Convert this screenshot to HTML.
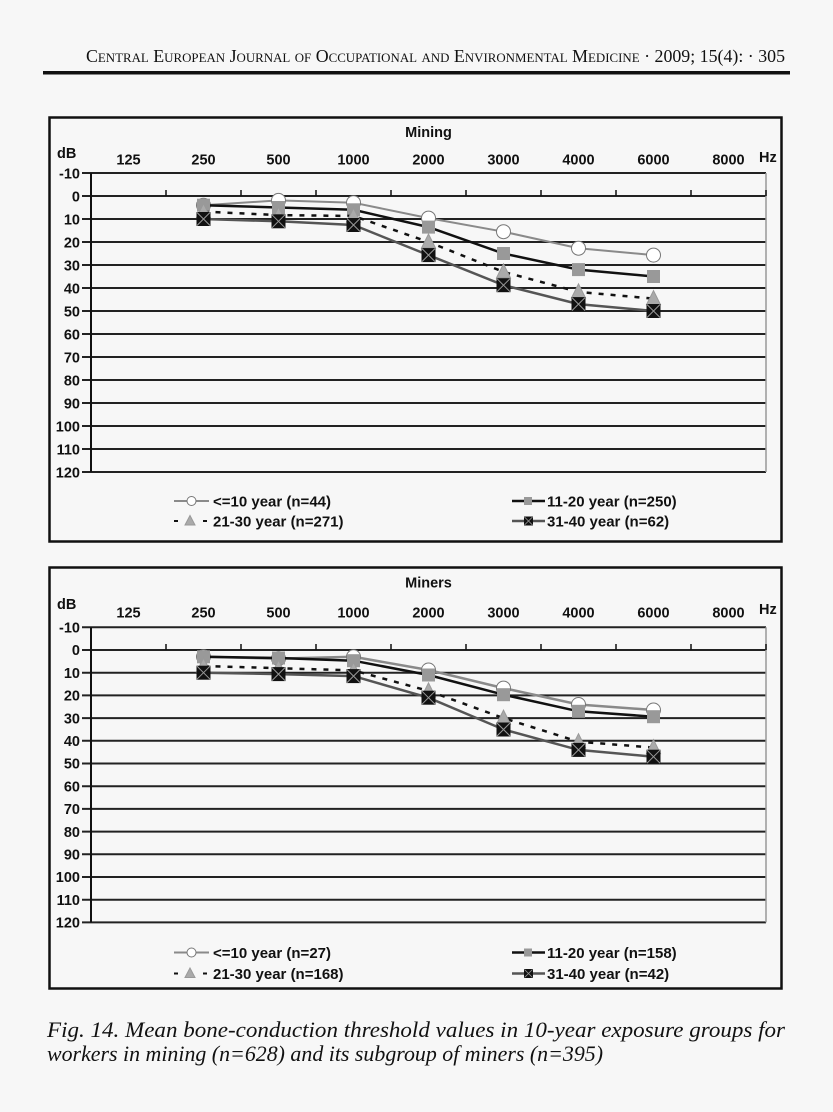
<!DOCTYPE html>
<html><head><meta charset="utf-8"><style>
html,body{margin:0;padding:0;background:#f7f7f7;}
svg{display:block;}
.t{font-family:"Liberation Sans",Arial,sans-serif;font-weight:bold;font-size:14.5px;fill:#111;}
.l{font-family:"Liberation Sans",Arial,sans-serif;font-weight:bold;font-size:15px;fill:#111;}
</style></head><body>
<svg width="833" height="1112" viewBox="0 0 833 1112" xmlns="http://www.w3.org/2000/svg">
<defs>
<marker id="mc" markerUnits="userSpaceOnUse" markerWidth="20" markerHeight="20" refX="10" refY="10" overflow="visible"><circle cx="10" cy="10" r="7" fill="#fff" stroke="#777" stroke-width="1"/></marker>
<marker id="ms" markerUnits="userSpaceOnUse" markerWidth="20" markerHeight="20" refX="10" refY="10" overflow="visible"><rect x="3.5" y="3.5" width="13" height="13" fill="#999"/></marker>
<marker id="mt" markerUnits="userSpaceOnUse" markerWidth="20" markerHeight="20" refX="10" refY="10" overflow="visible"><polygon points="10,2 17,16 3,16" fill="#aaa" stroke="#999" stroke-width="1"/></marker>
<marker id="mx" markerUnits="userSpaceOnUse" markerWidth="20" markerHeight="20" refX="10" refY="10" overflow="visible"><rect x="3" y="3" width="14" height="14" fill="#111"/><path d="M3.5 3.5L16.5 16.5M16.5 3.5L3.5 16.5" stroke="#999" stroke-width="1"/></marker>
</defs>
<rect width="833" height="1112" fill="#f7f7f7"/>

<!-- Header -->
<text x="86" y="62" textLength="699" lengthAdjust="spacingAndGlyphs" style="font-family:'Liberation Serif',serif;font-size:18px;font-variant:small-caps;fill:#111;">Central European Journal of Occupational and Environmental Medicine · 2009; 15(4): · 305</text>
<rect x="43" y="71" width="747" height="3.5" fill="#111"/>

<!-- ===== TOP CHART ===== -->
<rect x="49.5" y="117.5" width="732" height="424" fill="none" stroke="#111" stroke-width="2.5"/>
<text class="t" x="428.5" y="137" text-anchor="middle">Mining</text>
<text class="t" x="57" y="158">dB</text>
<text class="t" x="759" y="162">Hz</text>
<g class="t" text-anchor="middle">
<text x="128.5" y="164.5">125</text><text x="203.5" y="164.5">250</text><text x="278.5" y="164.5">500</text><text x="353.5" y="164.5">1000</text><text x="428.5" y="164.5">2000</text><text x="503.5" y="164.5">3000</text><text x="578.5" y="164.5">4000</text><text x="653.5" y="164.5">6000</text><text x="728.5" y="164.5">8000</text>
</g>
<g stroke="#222" stroke-width="2">
<line x1="82" y1="173" x2="766" y2="173"/><line x1="82" y1="196" x2="766" y2="196"/><line x1="82" y1="219" x2="766" y2="219"/><line x1="82" y1="242" x2="766" y2="242"/><line x1="82" y1="265" x2="766" y2="265"/><line x1="82" y1="288" x2="766" y2="288"/><line x1="82" y1="311" x2="766" y2="311"/><line x1="82" y1="334" x2="766" y2="334"/><line x1="82" y1="357" x2="766" y2="357"/><line x1="82" y1="380" x2="766" y2="380"/><line x1="82" y1="403" x2="766" y2="403"/><line x1="82" y1="426" x2="766" y2="426"/><line x1="82" y1="449" x2="766" y2="449"/><line x1="82" y1="472" x2="766" y2="472"/>
</g>
<line x1="91" y1="173" x2="91" y2="472" stroke="#111" stroke-width="2"/>
<line x1="766" y1="173" x2="766" y2="472" stroke="#999" stroke-width="1.5"/>
<g stroke="#111" stroke-width="1.5">
<line x1="166" y1="190" x2="166" y2="196"/><line x1="241" y1="190" x2="241" y2="196"/><line x1="316" y1="190" x2="316" y2="196"/><line x1="391" y1="190" x2="391" y2="196"/><line x1="466" y1="190" x2="466" y2="196"/><line x1="541" y1="190" x2="541" y2="196"/><line x1="616" y1="190" x2="616" y2="196"/><line x1="691" y1="190" x2="691" y2="196"/><line x1="766" y1="190" x2="766" y2="196"/>
</g>
<g class="t" text-anchor="end">
<text x="80" y="178.5">-10</text><text x="80" y="201.5">0</text><text x="80" y="224.5">10</text><text x="80" y="247.5">20</text><text x="80" y="270.5">30</text><text x="80" y="293.5">40</text><text x="80" y="316.5">50</text><text x="80" y="339.5">60</text><text x="80" y="362.5">70</text><text x="80" y="385.5">80</text><text x="80" y="408.5">90</text><text x="80" y="431.5">100</text><text x="80" y="454.5">110</text><text x="80" y="477.5">120</text>
</g>
<polyline points="203.5,205.2 278.5,200.4 353.5,202.7 428.5,218.1 503.5,231.7 578.5,248.2 653.5,255.1" fill="none" stroke="#8a8a8a" stroke-width="2" marker-start="url(#mc)" marker-mid="url(#mc)" marker-end="url(#mc)"/>
<polyline points="203.5,205.2 278.5,207.5 353.5,209.8 428.5,227.1 503.5,253.5 578.5,269.6 653.5,276.5" fill="none" stroke="#111" stroke-width="2.5" marker-start="url(#ms)" marker-mid="url(#ms)" marker-end="url(#ms)"/>
<polyline points="203.5,211.6 278.5,215.1 353.5,216 428.5,242 503.5,271.9 578.5,291.9 653.5,298.6" fill="none" stroke="#111" stroke-width="2.5" stroke-dasharray="5,7" marker-start="url(#mt)" marker-mid="url(#mt)" marker-end="url(#mt)"/>
<polyline points="203.5,219 278.5,221.3 353.5,225 428.5,255.1 503.5,285.2 578.5,304.1 653.5,311" fill="none" stroke="#555" stroke-width="2.5" marker-start="url(#mx)" marker-mid="url(#mx)" marker-end="url(#mx)"/>
<!-- legend top -->
<line x1="174" y1="501" x2="209" y2="501" stroke="#8a8a8a" stroke-width="2"/><circle cx="191.5" cy="501" r="4.5" fill="#fff" stroke="#777" stroke-width="1"/>
<text class="l" x="213" y="506.5">&lt;=10 year (n=44)</text>
<line x1="174" y1="521" x2="178" y2="521" stroke="#111" stroke-width="2"/><line x1="203" y1="521" x2="207" y2="521" stroke="#111" stroke-width="2"/><polygon points="190,515.5 195,525 185,525" fill="#aaa" stroke="#999" stroke-width="1"/>
<text class="l" x="213" y="526.5">21-30 year (n=271)</text>
<line x1="512" y1="501" x2="545" y2="501" stroke="#111" stroke-width="2.5"/><rect x="524" y="497" width="8" height="8" fill="#999"/>
<text class="l" x="547" y="506.5">11-20 year (n=250)</text>
<line x1="512" y1="521" x2="545" y2="521" stroke="#555" stroke-width="2.5"/><rect x="524" y="516.5" width="9" height="9" fill="#111"/><path d="M524.5 517L532.5 525M532.5 517L524.5 525" stroke="#999" stroke-width="0.8"/>
<text class="l" x="547" y="526.5">31-40 year (n=62)</text>

<!-- ===== BOTTOM CHART ===== -->
<rect x="49.5" y="567.5" width="732" height="421" fill="none" stroke="#111" stroke-width="2.5"/>
<text class="t" x="428.5" y="587.5" text-anchor="middle">Miners</text>
<text class="t" x="57" y="609">dB</text>
<text class="t" x="759" y="614">Hz</text>
<g class="t" text-anchor="middle">
<text x="128.5" y="617.5">125</text><text x="203.5" y="617.5">250</text><text x="278.5" y="617.5">500</text><text x="353.5" y="617.5">1000</text><text x="428.5" y="617.5">2000</text><text x="503.5" y="617.5">3000</text><text x="578.5" y="617.5">4000</text><text x="653.5" y="617.5">6000</text><text x="728.5" y="617.5">8000</text>
</g>
<g stroke="#222" stroke-width="2">
<line x1="82" y1="627.3" x2="766" y2="627.3"/><line x1="82" y1="650" x2="766" y2="650"/><line x1="82" y1="672.7" x2="766" y2="672.7"/><line x1="82" y1="695.4" x2="766" y2="695.4"/><line x1="82" y1="718.1" x2="766" y2="718.1"/><line x1="82" y1="740.8" x2="766" y2="740.8"/><line x1="82" y1="763.5" x2="766" y2="763.5"/><line x1="82" y1="786.2" x2="766" y2="786.2"/><line x1="82" y1="808.9" x2="766" y2="808.9"/><line x1="82" y1="831.6" x2="766" y2="831.6"/><line x1="82" y1="854.3" x2="766" y2="854.3"/><line x1="82" y1="877" x2="766" y2="877"/><line x1="82" y1="899.7" x2="766" y2="899.7"/><line x1="82" y1="922.4" x2="766" y2="922.4"/>
</g>
<line x1="91" y1="627.3" x2="91" y2="922.4" stroke="#111" stroke-width="2"/>
<line x1="766" y1="627.3" x2="766" y2="922.4" stroke="#999" stroke-width="1.5"/>
<g stroke="#111" stroke-width="1.5">
<line x1="166" y1="644" x2="166" y2="650"/><line x1="241" y1="644" x2="241" y2="650"/><line x1="316" y1="644" x2="316" y2="650"/><line x1="391" y1="644" x2="391" y2="650"/><line x1="466" y1="644" x2="466" y2="650"/><line x1="541" y1="644" x2="541" y2="650"/><line x1="616" y1="644" x2="616" y2="650"/><line x1="691" y1="644" x2="691" y2="650"/><line x1="766" y1="644" x2="766" y2="650"/>
</g>
<g class="t" text-anchor="end">
<text x="80" y="632.5">-10</text><text x="80" y="655.2">0</text><text x="80" y="677.9">10</text><text x="80" y="700.6">20</text><text x="80" y="723.3">30</text><text x="80" y="746">40</text><text x="80" y="768.7">50</text><text x="80" y="791.4">60</text><text x="80" y="814.1">70</text><text x="80" y="836.8">80</text><text x="80" y="859.5">90</text><text x="80" y="882.2">100</text><text x="80" y="904.9">110</text><text x="80" y="927.6">120</text>
</g>
<polyline points="203.5,656.8 278.5,658.6 353.5,656.8 428.5,670 503.5,688.1 578.5,704.5 653.5,710" fill="none" stroke="#8a8a8a" stroke-width="2.5" marker-start="url(#mc)" marker-mid="url(#mc)" marker-end="url(#mc)"/>
<polyline points="203.5,656.8 278.5,658 353.5,660.7 428.5,675 503.5,694.7 578.5,711.3 653.5,716.7" fill="none" stroke="#111" stroke-width="2.5" marker-start="url(#ms)" marker-mid="url(#ms)" marker-end="url(#ms)"/>
<polyline points="203.5,666 278.5,668.2 353.5,670.4 428.5,690.9 503.5,718.1 578.5,741.7 653.5,747.6" fill="none" stroke="#111" stroke-width="2.5" stroke-dasharray="5,7" marker-start="url(#mt)" marker-mid="url(#mt)" marker-end="url(#mt)"/>
<polyline points="203.5,672.7 278.5,674.1 353.5,676.1 428.5,697.7 503.5,729.5 578.5,749.9 653.5,756.7" fill="none" stroke="#555" stroke-width="2.5" marker-start="url(#mx)" marker-mid="url(#mx)" marker-end="url(#mx)"/>
<!-- legend bottom -->
<line x1="174" y1="952.5" x2="209" y2="952.5" stroke="#8a8a8a" stroke-width="2"/><circle cx="191.5" cy="952.5" r="4.5" fill="#fff" stroke="#777" stroke-width="1"/>
<text class="l" x="213" y="958">&lt;=10 year (n=27)</text>
<line x1="174" y1="973.5" x2="178" y2="973.5" stroke="#111" stroke-width="2"/><line x1="203" y1="973.5" x2="207" y2="973.5" stroke="#111" stroke-width="2"/><polygon points="190,968 195,977.5 185,977.5" fill="#aaa" stroke="#999" stroke-width="1"/>
<text class="l" x="213" y="979">21-30 year (n=168)</text>
<line x1="512" y1="952.5" x2="545" y2="952.5" stroke="#111" stroke-width="2.5"/><rect x="524" y="948.5" width="8" height="8" fill="#999"/>
<text class="l" x="547" y="958">11-20 year (n=158)</text>
<line x1="512" y1="973.5" x2="545" y2="973.5" stroke="#555" stroke-width="2.5"/><rect x="524" y="969" width="9" height="9" fill="#111"/><path d="M524.5 969.5L532.5 977.5M532.5 969.5L524.5 977.5" stroke="#999" stroke-width="0.8"/>
<text class="l" x="547" y="979">31-40 year (n=42)</text>

<!-- Caption -->
<text x="47" y="1037" textLength="738" lengthAdjust="spacingAndGlyphs" style="font-family:'Liberation Serif',serif;font-style:italic;font-size:22px;fill:#111;">Fig. 14. Mean bone-conduction threshold values in 10-year exposure groups for</text>
<text x="47" y="1061" textLength="556" lengthAdjust="spacingAndGlyphs" style="font-family:'Liberation Serif',serif;font-style:italic;font-size:22px;fill:#111;">workers in mining (n=628) and its subgroup of miners (n=395)</text>
</svg>
</body></html>
